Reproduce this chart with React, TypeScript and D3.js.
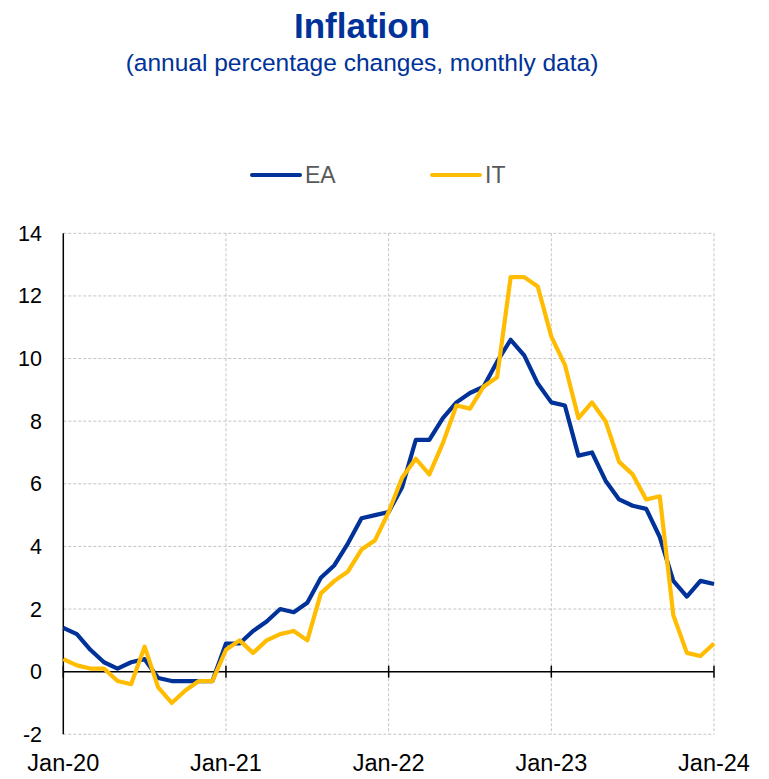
import { useEffect, useRef } from 'react';
import * as d3 from 'd3';

// monthly data, Jan-20 .. Jan-24
const months = d3.range(0, 49);
const ea = [
  1.4, 1.2, 0.7, 0.3, 0.1, 0.3, 0.4, -0.2, -0.3, -0.3, -0.3, -0.3,
  0.9, 0.9, 1.3, 1.6, 2.0, 1.9, 2.2, 3.0, 3.4, 4.1, 4.9, 5.0,
  5.1, 5.9, 7.4, 7.4, 8.1, 8.6, 8.9, 9.1, 9.9, 10.6, 10.1, 9.2,
  8.6, 8.5, 6.9, 7.0, 6.1, 5.5, 5.3, 5.2, 4.3, 2.9, 2.4, 2.9,
  2.8,
];
const it = [
  0.4, 0.2, 0.1, 0.1, -0.3, -0.4, 0.8, -0.5, -1.0, -0.6, -0.3, -0.3,
  0.7, 1.0, 0.6, 1.0, 1.2, 1.3, 1.0, 2.5, 2.9, 3.2, 3.9, 4.2,
  5.1, 6.2, 6.8, 6.3, 7.3, 8.5, 8.4, 9.1, 9.4, 12.6, 12.6, 12.3,
  10.7, 9.8, 8.1, 8.6, 8.0, 6.7, 6.3, 5.5, 5.6, 1.8, 0.6, 0.5,
  0.9,
];
const xTicks = [0, 12, 24, 36, 48];
const xTickLabels = ['Jan-20', 'Jan-21', 'Jan-22', 'Jan-23', 'Jan-24'];
const yTicks = [-2, 0, 2, 4, 6, 8, 10, 12, 14];

const W = 769;
const H = 779;
const FONT = 'Arial, "Liberation Sans", sans-serif';
const BLUE = '#003299';
const YELLOW = '#ffbc00';

export default function App() {
  const svgRef = useRef<SVGSVGElement>(null);

  useEffect(() => {
    if (!svgRef.current) return;
    const svg = d3.select(svgRef.current);
    svg.selectAll('*').remove();

    const x = d3.scaleLinear([0, 48], [63.3, 714]);
    const y = d3.scaleLinear([-2, 14], [734.3, 233.3]);

    // Title
    svg.append('text').attr('x', 362).attr('y', 38).attr('text-anchor', 'middle')
      .attr('font-family', FONT).attr('font-size', 35).attr('font-weight', 'bold')
      .attr('fill', BLUE).text('Inflation');
    svg.append('text').attr('x', 362).attr('y', 71).attr('text-anchor', 'middle')
      .attr('font-family', FONT).attr('font-size', 24.5)
      .attr('fill', BLUE).text('(annual percentage changes, monthly data)');

    // Grid
    svg.append('g').selectAll('line').data(yTicks).join('line')
      .attr('x1', x(0)).attr('x2', x(48))
      .attr('y1', d => y(d)).attr('y2', d => y(d))
      .attr('stroke', '#c4c4c4').attr('stroke-width', 1).attr('stroke-dasharray', '3,2');
    svg.append('g').selectAll('line').data(xTicks.slice(1)).join('line')
      .attr('x1', d => x(d)).attr('x2', d => x(d))
      .attr('y1', y(14)).attr('y2', y(-2))
      .attr('stroke', '#c4c4c4').attr('stroke-width', 1).attr('stroke-dasharray', '3,2');

    // Zero axis with ticks
    svg.append('line').attr('x1', x(0)).attr('x2', x(48)).attr('y1', y(0)).attr('y2', y(0))
      .attr('stroke', '#000').attr('stroke-width', 1.5);
    svg.append('g').selectAll('line').data(xTicks).join('line')
      .attr('x1', d => x(d)).attr('x2', d => x(d))
      .attr('y1', y(0) - 6).attr('y2', y(0) + 6)
      .attr('stroke', '#000').attr('stroke-width', 1.5);
    // Y axis
    svg.append('line').attr('x1', x(0)).attr('x2', x(0)).attr('y1', y(14)).attr('y2', y(-2))
      .attr('stroke', '#000').attr('stroke-width', 1.5);

    // Tick labels
    svg.append('g').selectAll('text').data(yTicks).join('text')
      .attr('x', 42).attr('y', d => y(d) + 7.5).attr('text-anchor', 'end')
      .attr('font-family', FONT).attr('font-size', 21.5).attr('fill', '#000')
      .text(d => String(d));
    svg.append('g').selectAll('text').data(xTicks).join('text')
      .attr('x', d => x(d)).attr('y', 771).attr('text-anchor', 'middle')
      .attr('font-family', FONT).attr('font-size', 23.5).attr('fill', '#000')
      .text((_, i) => xTickLabels[i]);

    // Lines
    const line = d3.line<number>().x((_, i) => x(months[i])).y(d => y(d));
    svg.append('path').datum(ea).attr('d', line).attr('fill', 'none')
      .attr('stroke', BLUE).attr('stroke-width', 4.2).attr('stroke-linejoin', 'round');
    svg.append('path').datum(it).attr('d', line).attr('fill', 'none')
      .attr('stroke', YELLOW).attr('stroke-width', 4.2).attr('stroke-linejoin', 'round');

    // Legend
    const legend: [string, string, number][] = [[BLUE, 'EA', 250], [YELLOW, 'IT', 430]];
    legend.forEach(([color, label, lx]) => {
      svg.append('line').attr('x1', lx + 2).attr('x2', lx + 50).attr('y1', 175).attr('y2', 175)
        .attr('stroke', color).attr('stroke-width', 4).attr('stroke-linecap', 'round');
      svg.append('text').attr('x', lx + 55).attr('y', 183).attr('font-family', FONT)
        .attr('font-size', 23).attr('fill', '#595959').text(label);
    });
  }, []);

  return (
    <div style={{ position: 'absolute', left: 0, top: 0 }}>
      <svg ref={svgRef} width={W} height={H} style={{ display: 'block', background: '#fff' }} />
    </div>
  );
}
